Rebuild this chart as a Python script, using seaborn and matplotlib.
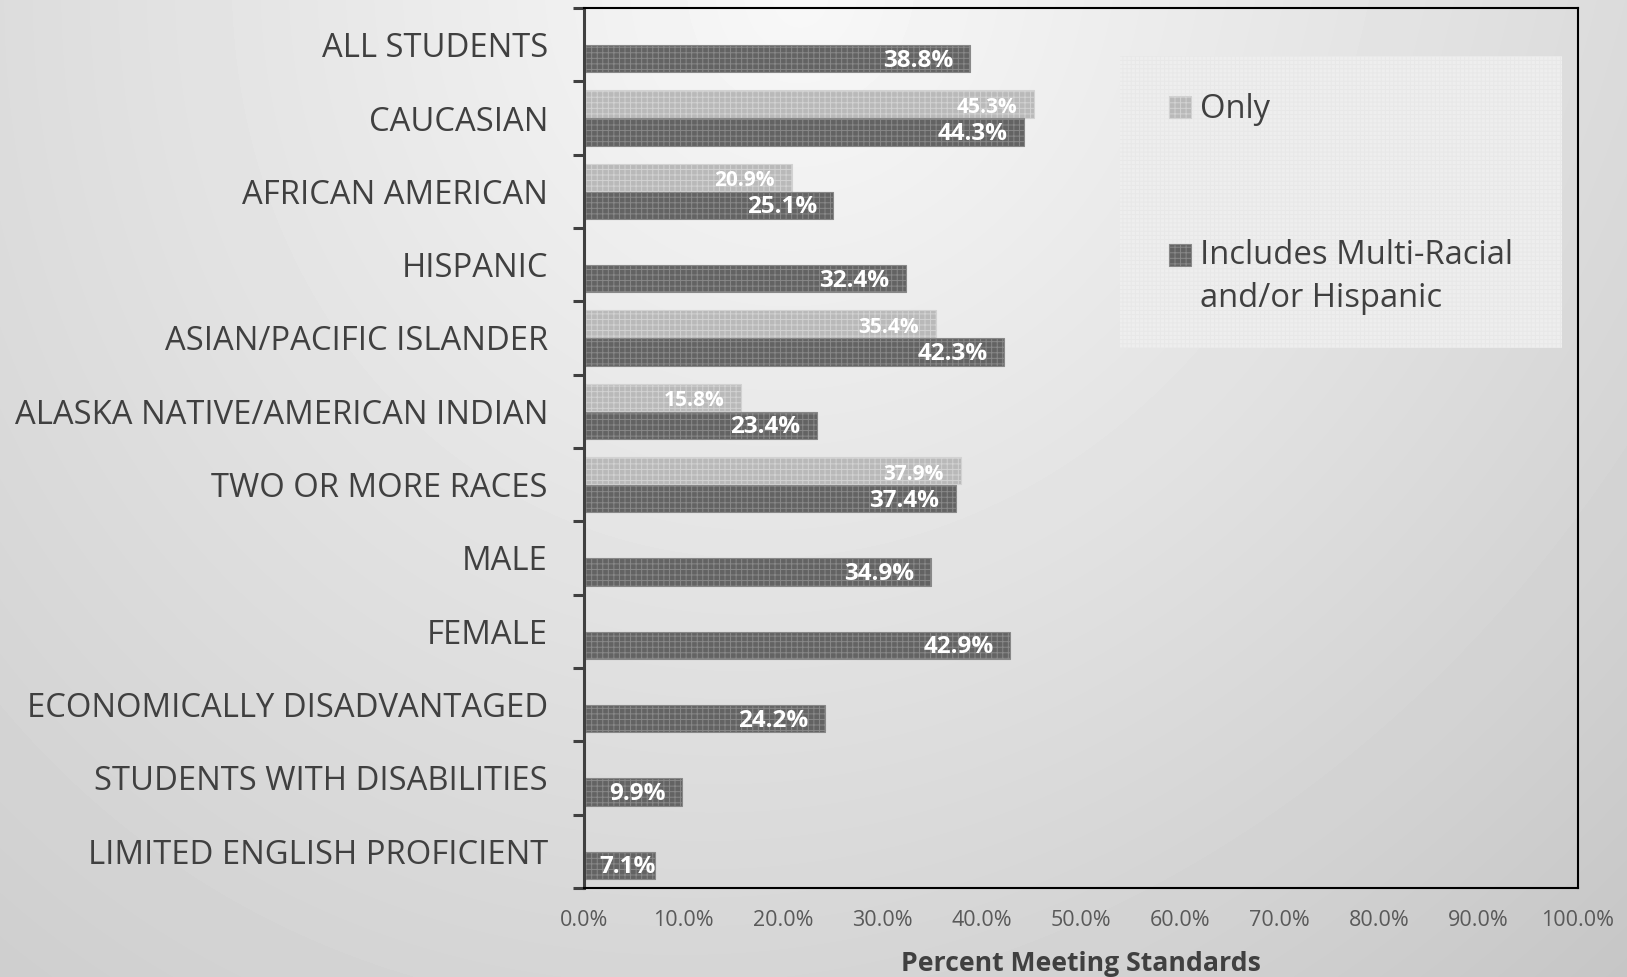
import numpy as np
import pandas as pd
import matplotlib
matplotlib.use("Agg")
import matplotlib.pyplot as plt
import matplotlib.colors as mcolors
import seaborn as sns
from matplotlib.patches import Rectangle
from matplotlib.legend_handler import HandlerPatch
from matplotlib.ticker import FixedLocator

# ---------------- data ----------------
categories = ["ALL STUDENTS", "CAUCASIAN", "AFRICAN AMERICAN", "HISPANIC",
              "ASIAN/PACIFIC ISLANDER", "ALASKA NATIVE/AMERICAN INDIAN",
              "TWO OR MORE RACES", "MALE", "FEMALE",
              "ECONOMICALLY DISADVANTAGED", "STUDENTS WITH DISABILITIES",
              "LIMITED ENGLISH PROFICIENT"]
nan = np.nan
only_values = [nan, 45.3, 20.9, nan, 35.4, 15.8, 37.9, nan, nan, nan, nan, nan]
includes_values = [38.8, 44.3, 25.1, 32.4, 42.3, 23.4, 37.4, 34.9, 42.9, 24.2, 9.9, 7.1]
series_names = ["Only", "Includes Multi-Racial\nand/or Hispanic"]
x_ticks = list(range(0, 101, 10))
x_label = "Percent Meeting Standards"

# ---------------- style ----------------
plt.rcParams['font.family'] = ['Open Sans', 'DejaVu Sans']
TEXT = '#404040'
LIGHT_FACE, LIGHT_EDGE = '#b9b9b9', '#d2d2d2'
DARK_FACE, DARK_EDGE = '#636363', '#888888'
plt.rcParams['hatch.linewidth'] = 0.7

W, H = 1627, 977
fig = plt.figure(figsize=(W / 100, H / 100), dpi=100)

# gradient background
bg = fig.add_axes([0, 0, 1, 1], zorder=-10)
yy, xx = np.mgrid[0:H, 0:W]
shade = 248 - np.sqrt((28 * (xx - 800) / 800) ** 2 + (31 * yy / 977) ** 2) - 8 * (xx / W) * (yy / H)
bg.imshow(shade, cmap='gray', vmin=0, vmax=255, aspect='auto', interpolation='bilinear')
bg.axis('off')

# legend backdrop
fig.patches.append(Rectangle((1120 / W, 1 - 348 / H), 442 / W, 292 / H,
                             transform=fig.transFigure, facecolor='#eeeeee',
                             edgecolor='#e8e8e8', hatch='++++', linewidth=0,
                             zorder=-5))

# main axes
L, R, T, B = 584, 1578, 8, 888
ax = fig.add_axes([L / W, 1 - B / H, (R - L) / W, (B - T) / H])
ax.patch.set_alpha(0)

df = pd.DataFrame({
    "category": categories * 2,
    "series": [series_names[0]] * len(categories) + [series_names[1]] * len(categories),
    "value": only_values + includes_values,
}).dropna()

sns.barplot(data=df, y="category", x="value", hue="series", order=categories,
            hue_order=series_names, palette=[LIGHT_FACE, DARK_FACE], orient='h',
            width=0.76, gap=0.02, ax=ax, legend=False, errorbar=None)


def is_dark(cont):
    fc = cont.patches[0].get_facecolor()
    return np.allclose(fc[:3], mcolors.to_rgb(DARK_FACE), atol=0.02)


light_cont = next(c for c in ax.containers if not is_dark(c))
dark_cont = next(c for c in ax.containers if is_dark(c))

for cont in ax.containers:
    dark = is_dark(cont)
    for bar in cont.patches:
        bar.set_edgecolor(DARK_EDGE if dark else LIGHT_EDGE)
        bar.set_linewidth(0.8)
        bar.set_hatch('+++')

ax.set_xlim(0, 100)
ax.set_ylim(len(categories) - 0.5, -0.5)
ax.set_xticks(x_ticks)
ax.set_xticklabels([f"{v:.1f}%" for v in x_ticks])
ax.tick_params(axis='x', length=0, pad=16, labelsize=15.5, labelcolor='#595959')
ax.tick_params(axis='y', which='major', length=0, pad=26, labelsize=23.6, labelcolor=TEXT)
ax.yaxis.set_minor_locator(FixedLocator(np.arange(-0.5, len(categories), 1.0)))
ax.tick_params(axis='y', which='minor', length=8, width=2.2, color=TEXT, direction='out')
ax.set_ylabel("")
ax.set_xlabel(x_label, fontsize=19.2, fontweight='bold', color=TEXT, labelpad=14)

ax.spines['left'].set_color(TEXT)
ax.spines['left'].set_linewidth(2.2)
for s in ['top', 'right', 'bottom']:
    ax.spines[s].set_color('black')
    ax.spines[s].set_linewidth(1.5)

# data labels
anns = []
for cont in ax.containers:
    dark = is_dark(cont)
    yoff = -1.5 if dark else -2.5
    vals = [b.get_width() for b in cont.patches]
    for bar, val in zip(cont.patches, vals):
        if np.isnan(val) or val == 0:
            continue
        yc = bar.get_y() + bar.get_height() / 2
        a = ax.annotate(f"{val:.1f}%", xy=(val, yc), xytext=(-12, yoff),
                        textcoords='offset points', ha='right', va='center',
                        color='white', fontweight='bold',
                        fontsize=17.5 if dark else 15)
        anns.append((a, yoff))

fig.canvas.draw()
for a, yoff in anns:
    bb = a.get_window_extent()
    if bb.x0 < L + 15:
        shift_px = (L + 15) - bb.x0
        a.set_position((-12 + shift_px * 72 / 100, yoff))

# legend
only_handle = light_cont.patches[0]
inc_handle = dark_cont.patches[0]


class ShiftedHandler(HandlerPatch):
    def __init__(self, shift, **kw):
        super().__init__(**kw)
        self.shift = shift

    def create_artists(self, legend, orig_handle, xdescent, ydescent, width, height,
                       fontsize, trans):
        p = Rectangle((-xdescent, -ydescent + self.shift), width, height)
        self.update_prop(p, orig_handle, legend)
        p.set_transform(trans)
        return [p]


common = dict(loc='center left', bbox_transform=fig.transFigure, frameon=False,
              borderpad=0, borderaxespad=0, handlelength=0.66, handleheight=0.66,
              handletextpad=0.3, fontsize=23.6, labelcolor=TEXT)
leg1 = ax.legend(handles=[only_handle], labels=[series_names[0]],
                 bbox_to_anchor=(1169 / W, 1 - 110 / H),
                 handler_map={only_handle: ShiftedHandler(0)}, **common)
ax.add_artist(leg1)
leg2 = ax.legend(handles=[inc_handle], labels=[series_names[1]],
                 bbox_to_anchor=(1169 / W, 1 - 277 / H),
                 handler_map={inc_handle: ShiftedHandler(16.8)}, **common)
for t in leg2.get_texts():
    t.set_linespacing(1.4)

fig.savefig("out.png", dpi=100)
